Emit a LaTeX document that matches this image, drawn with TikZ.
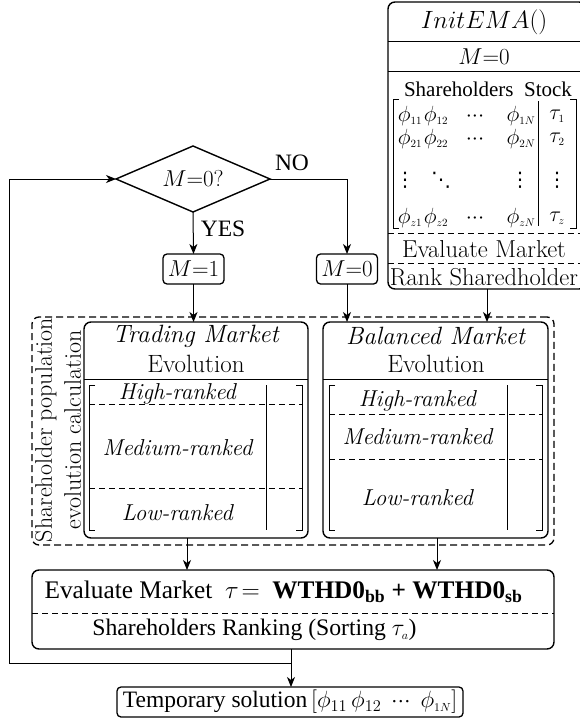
\RequirePackage{fix-cm}
\documentclass[tikz,border=0pt]{standalone}
\usepackage{fontspec}
\newfontfamily\tms{Liberation Serif}
\newfontfamily\djv{DejaVu Sans}
\usetikzlibrary{shapes.geometric,arrows.meta}
\tikzset{
  base/.style={inner sep=0pt, outer sep=0pt, font=\fontsize{25}{30}\selectfont},
  mathf/.style={font=\fontsize{23}{28}\selectfont},
  rankf/.style={font=\fontsize{23}{28}\selectfont},
  tfont/.style={font=\tms\fontsize{23.5}{28}\selectfont},
  mfont/.style={font=\fontsize{22}{26}\selectfont},
  dotf/.style={font=\djv\fontsize{20}{24}\selectfont},
  rbox/.style={draw, line width=1.4pt, rounded corners=7pt},
  sbox/.style={draw, line width=1.3pt, rounded corners=4pt},
  dbox/.style={draw, line width=1.3pt, rounded corners=7pt, dash pattern=on 7pt off 4pt},
  conn/.style={line width=1pt, -{Stealth[length=10pt,width=8pt,inset=3pt]}},
  sep/.style={line width=1pt},
  dsep/.style={line width=1pt, dash pattern=on 6pt off 4pt},
  brk/.style={line width=1pt},
}
\newcommand{\sss}[1]{{\scriptscriptstyle #1}}
\newcommand{\mydots}{${\cdot}{\cdot}{\cdot}$}
\begin{document}
\begin{tikzpicture}[x=1pt,y=-1pt, every node/.style={base}]
\useasboundingbox (0,0) rectangle (579,723);

% ---------- InitEMA box ----------
\node[rbox, minimum width=198pt, minimum height=287pt] (init) at (487,145.5) {};
\node (initT) at (484,22) {$InitEMA()$};
\draw[sep] (388,41) -- (586,41);
\node[mathf] (initM) at (484,57) {$M{=}0$};
\draw[sep] (388,71) -- (586,71);
\node[font=\tms\fontsize{21}{25}\selectfont] (shst) at (488,89) {Shareholders\ \ Stock};
% matrix
\draw[brk] (399,99) -- (393,99) -- (393,228) -- (399,228);
\draw[brk] (570,99) -- (576,99) -- (576,228) -- (570,228);
\draw[brk] (538,101) -- (538,226);
\node[mfont] (a11) at (410,116) {$\phi_\sss{11}$};
\node[mfont] (a12) at (436,116) {$\phi_\sss{12}$};
\node[mfont] (a1d) at (475,117) {\mydots};
\node[mfont] (a1n) at (521,116) {$\phi_\sss{1N}$};
\node[mfont] (t1) at (557,116) {$\tau_\sss{1}$};
\node[mfont] (a21) at (410,139) {$\phi_\sss{21}$};
\node[mfont] (a22) at (436,139) {$\phi_\sss{22}$};
\node[mfont] (a2d) at (475,140) {\mydots};
\node[mfont] (a2n) at (521,139) {$\phi_\sss{2N}$};
\node[mfont] (t2) at (557,139) {$\tau_\sss{2}$};
\node[dotf] (v1) at (405,180) {⋮};
\node[dotf] (v2) at (441,180) {⋱};
\node[dotf] (v3) at (520,180) {⋮};
\node[dotf] (v4) at (557,180) {⋮};
\node[mfont] (az1) at (410,218) {$\phi_\sss{z1}$};
\node[mfont] (az2) at (436,218) {$\phi_\sss{z2}$};
\node[mfont] (azd) at (475,219) {\mydots};
\node[mfont] (azn) at (521,218) {$\phi_\sss{zN}$};
\node[mfont] (tz) at (557,218) {$\tau_\sss{z}$};
\draw[dsep] (388,233) -- (586,233);
\node[font=\fontsize{24.5}{29}\selectfont] (evm) at (484,249) {Evaluate Market};
\draw[dsep] (388,263) -- (586,263);
\node[font=\fontsize{24.5}{29}\selectfont] (rsh) at (484,277) {Rank Sharedholder};

% ---------- decision ----------
\node[draw, diamond, line width=1.4pt, minimum width=154pt, minimum height=66pt, aspect=2.35, mathf] (dia) at (193,179) {$M{=}0?$};
\node[tfont] (no) at (292,163) {NO};
\node[tfont] (yes) at (223,229) {YES};
\node[sbox, minimum width=61pt, minimum height=30pt, mathf] (m1) at (193.5,269) {$M{=}1$};
\node[sbox, minimum width=61pt, minimum height=30pt, mathf] (m0) at (347,269) {$M{=}0$};
\draw[conn] (dia.south) -- (m1.north);
\draw[conn] (dia.east) -| (m0.north);

% ---------- population evolution ----------
\node[dbox, minimum width=522pt, minimum height=228pt] (pop) at (293,431) {};
\node[rotate=90, align=center, font=\fontsize{24}{29}\selectfont] (popl) at (58,430) {Shareholder population\\evolution calculation};

\node[rbox, minimum width=224pt, minimum height=216pt] (trade) at (196,430) {};
\draw[sep] (84,379) -- (308,379);
\node (trT) at (196,336) {\textit{Trading Market}};
\node (trE) at (196,364) {Evolution};
\draw[brk] (95,385) -- (89,385) -- (89,530) -- (95,530);
\draw[brk] (296,385) -- (302,385) -- (302,530) -- (296,530);
\draw[brk] (266,385) -- (266,530);
\draw[dsep] (89,404) -- (302,404);
\draw[dsep] (89,488) -- (302,488);
\node[rankf] (trH) at (178,394) {\textit{High-ranked}};
\node[rankf] (trM) at (178,448) {\textit{Medium-ranked}};
\node[rankf] (trL) at (178,513) {\textit{Low-ranked}};

\node[rbox, minimum width=225pt, minimum height=216pt] (bal) at (435.5,430) {};
\draw[sep] (323,379) -- (548,379);
\node (baT) at (436,336) {\textit{Balanced Market}};
\node (baE) at (436,364) {Evolution};
\draw[brk] (335,385) -- (329,385) -- (329,530) -- (335,530);
\draw[brk] (536,385) -- (542,385) -- (542,530) -- (536,530);
\draw[brk] (507,385) -- (507,530);
\draw[dsep] (329,414) -- (542,414);
\draw[dsep] (329,459) -- (542,459);
\node[rankf] (baH) at (418,401) {\textit{High-ranked}};
\node[rankf] (baM) at (418,437) {\textit{Medium-ranked}};
\node[rankf] (baL) at (418,498) {\textit{Low-ranked}};

\draw[conn] (m1.south) -- (m1.south |- trade.north);
\draw[conn] (m0.south) -- (m0.south |- bal.north);
\draw[conn] (init.south) -- (init.south |- bal.north);

% ---------- evaluation ----------
\node[rbox, minimum width=522pt, minimum height=79pt] (bot) at (293,609.5) {};
\draw[dsep] (32,613) -- (554,613);
\node[font=\tms\fontsize{25.3}{30}\selectfont] (bt1) at (283.5,592) {Evaluate Market\ \ $\tau\!=$\ \ \textbf{WTHD0\textsubscript{bb} + WTHD0\textsubscript{sb}}};
\node[font=\tms\fontsize{23.7}{28}\selectfont] (bt2) at (254.5,630) {Shareholders Ranking (Sorting $\tau_\sss{a}$)};
\draw[conn] ([xshift=-9pt]trade.south) -- ([xshift=-9pt]trade.south |- bot.north);
\draw[conn] ([xshift=1.5pt]bal.south) -- ([xshift=1.5pt]bal.south |- bot.north);

% ---------- output ----------
\node[sbox, minimum width=346pt, minimum height=30pt, tfont] (tmp) at (290,702) {Temporary solution\,$[\phi_{11}\,\phi_{12}\ \,{\cdot}{\cdot}{\cdot}\ \,\phi_\sss{1N}]$};
\coordinate (jn) at (291,663);
\coordinate (lb) at (9,663);
\coordinate (lt) at (9,179);
\draw[conn] (jn |- bot.south) -- (jn |- tmp.north);
\draw[conn] (jn) -- (lb) -- (lt) -- (dia.west);
\end{tikzpicture}
\end{document}
